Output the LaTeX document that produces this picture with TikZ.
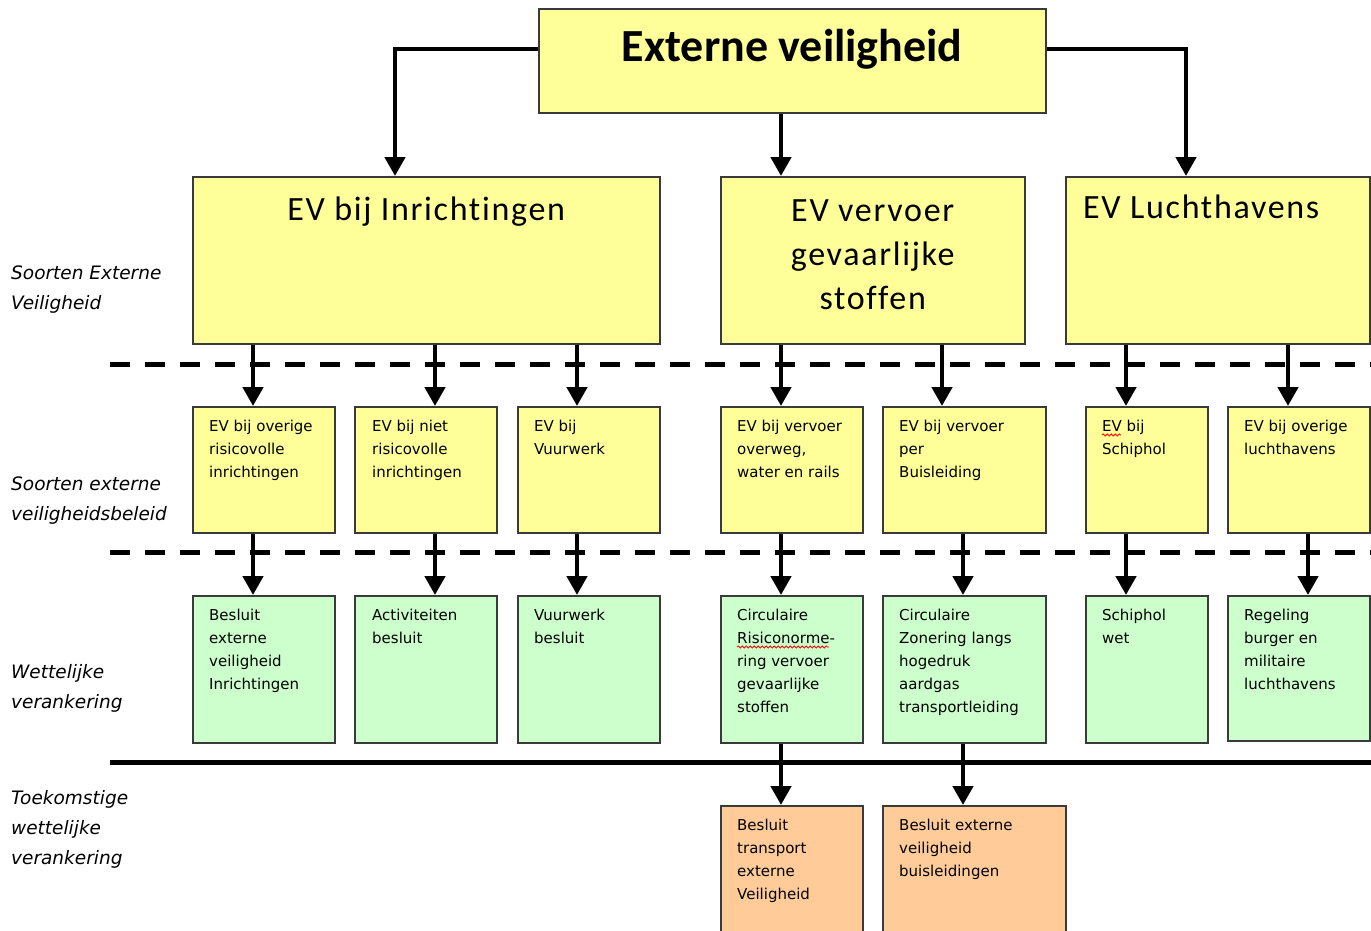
\documentclass[tikz,border=0pt]{standalone}
\usepackage{fontspec}
\usetikzlibrary{arrows.meta,decorations.pathmorphing}

\newfontfamily\headfont{Carlito}[LetterSpace=5,Ligatures={NoCommon}]
\newfontfamily\topfont{Carlito}
\newfontfamily\cellfont{DejaVu Sans}
\newfontfamily\sidefont{DejaVu Sans}

\definecolor{boxyellow}{HTML}{FFFF99}
\definecolor{boxgreen}{HTML}{CCFFCC}
\definecolor{boxorange}{HTML}{FFCC99}
\definecolor{boxline}{HTML}{3A3A3A}

% multi-line cell text, first baseline on the node's base anchor
\newcommand\celltext[2]{\parbox[t]{#1pt}{\raggedright #2}}

\tikzset{
  box/.style={draw=boxline, line width=1.5pt, inner sep=0pt, anchor=north west},
  ybox/.style={box, fill=boxyellow},
  gbox/.style={box, fill=boxgreen},
  obox/.style={box, fill=boxorange},
  small/.style={box, minimum width=142pt, minimum height=126pt},
  lawbox/.style={box, minimum width=142pt, minimum height=147pt},
  celltxt/.style={anchor=base west, inner sep=0pt, xshift=17pt, yshift=-25.5pt,
    font=\cellfont\fontsize{15}{23}\selectfont},
  sidetxt/.style={anchor=base west, inner sep=0pt,
    font=\sidefont\itshape\fontsize{18.5}{30}\selectfont},
  arr/.style={line width=4.5pt, draw=black, -{Triangle[width=20pt,length=19pt]}},
  sepdash/.style={line width=5pt, dash pattern=on 20pt off 15pt},
  sepsolid/.style={line width=5pt},
  spellmark/.style={draw=red, line width=0.8pt, decorate,
    decoration={snake, amplitude=1.1pt, segment length=4pt}},
}

\begin{document}
\begin{tikzpicture}[x=1pt,y=-1pt]
\useasboundingbox (0,0) rectangle (1371,930);
\clip (0,0) rectangle (1371,930);
\fill[white] (0,0) rectangle (1371,930);

% arrow columns
\coordinate (cL) at (395,0);
\coordinate (cM) at (781,0);
\coordinate (cR) at (1186,0);
\coordinate (c1) at (253,0);
\coordinate (c2) at (435,0);
\coordinate (c3) at (577,0);
\coordinate (c4) at (781,0);
\coordinate (c5a) at (942,0);
\coordinate (c5b) at (963,0);
\coordinate (c6) at (1126,0);
\coordinate (c7a) at (1288,0);
\coordinate (c7b) at (1308,0);

% level separators
\coordinate (s1a) at (110,364); \coordinate (s1b) at (1371,364);
\coordinate (s2a) at (110,552); \coordinate (s2b) at (1371,552);
\coordinate (s3a) at (110,762); \coordinate (s3b) at (1371,762);
\draw[sepdash] (s1a) -- (s1b);
\draw[sepdash] (s2a) -- (s2b);
\draw[sepsolid] (s3a) -- (s3b);

% top
\node[ybox, minimum width=507pt, minimum height=104pt] (title) at (538,8) {};
\node[anchor=base, inner sep=0pt, font=\topfont\bfseries\fontsize{46}{50}\selectfont]
  (title-t) at ([yshift=-53pt]title.north) {Externe veiligheid};

% kinds of external safety
\node[ybox, minimum width=467pt, minimum height=167pt] (inr) at (192,176) {};
\node[ybox, minimum width=304pt, minimum height=167pt] (ver) at (720,176) {};
\node[ybox, minimum width=304pt, minimum height=167pt] (luc) at (1065,176) {};
\node[anchor=base, inner sep=0pt, font=\headfont\fontsize{34}{44}\selectfont]
  (inr-t) at ([yshift=-44pt]inr.north) {EV bij Inrichtingen};
\node[anchor=base, inner sep=0pt, font=\headfont\fontsize{34}{44}\selectfont]
  (ver-t) at ([yshift=-45pt]ver.north) {\parbox[t]{300pt}{\centering EV vervoer\\gevaarlijke\\stoffen}};
\node[anchor=base west, inner sep=0pt, font=\headfont\fontsize{34}{44}\selectfont]
  (luc-t) at ([xshift=18pt,yshift=-42pt]luc.north west) {EV Luchthavens};

% policy kinds
\node[ybox, small] (iA) at (192,406) {};
\node[ybox, small] (iB) at (354,406) {};
\node[ybox, small] (iC) at (517,406) {};
\node[ybox, small] (vA) at (720,406) {};
\node[ybox, small, minimum width=163pt] (vB) at (882,406) {};
\node[ybox, small, minimum width=122pt] (lA) at (1085,406) {};
\node[ybox, small] (lB) at (1227,406) {};
\node[celltxt] (iA-t) at (iA.north west) {\celltext{125}{EV bij overige\\risicovolle\\inrichtingen}};
\node[celltxt, xshift=1pt] (iB-t) at (iB.north west) {\celltext{125}{EV bij niet\\risicovolle\\inrichtingen}};
\node[celltxt] (iC-t) at (iC.north west) {\celltext{125}{EV bij\\Vuurwerk}};
\node[celltxt] (vA-t) at (vA.north west) {\celltext{125}{EV bij vervoer\\overweg,\\water en rails}};
\node[celltxt] (vB-t) at (vB.north west) {\celltext{140}{EV bij vervoer\\per\\Buisleiding}};
\node[celltxt] (lA-t) at (lA.north west) {\celltext{105}{EV bij\\Schiphol}};
\node[celltxt] (lB-t) at (lB.north west) {\celltext{125}{EV bij overige\\luchthavens}};

% legal basis
\node[gbox, lawbox] (wA) at (192,595) {};
\node[gbox, lawbox] (wB) at (354,595) {};
\node[gbox, lawbox] (wC) at (517,595) {};
\node[gbox, lawbox] (wD) at (720,595) {};
\node[gbox, lawbox, minimum width=163pt] (wE) at (882,595) {};
\node[gbox, lawbox, minimum width=122pt] (wF) at (1085,595) {};
\node[gbox, lawbox, minimum height=145pt] (wG) at (1227,595) {};
\node[celltxt] (wA-t) at (wA.north west) {\celltext{125}{Besluit\\externe\\veiligheid\\Inrichtingen}};
\node[celltxt, xshift=1pt] (wB-t) at (wB.north west) {\celltext{125}{Activiteiten\\besluit}};
\node[celltxt] (wC-t) at (wC.north west) {\celltext{125}{Vuurwerk\\besluit}};
\node[celltxt] (wD-t) at (wD.north west) {\celltext{125}{Circulaire\\Risiconorme-\\ring vervoer\\gevaarlijke\\stoffen}};
\node[celltxt] (wE-t) at (wE.north west) {\celltext{145}{Circulaire\\Zonering langs\\hogedruk\\aardgas\\transportleiding}};
\node[celltxt] (wF-t) at (wF.north west) {\celltext{105}{Schiphol\\wet}};
\node[celltxt] (wG-t) at (wG.north west) {\celltext{125}{Regeling\\burger en\\militaire\\luchthavens}};

% spell-check marks
\draw[spellmark] ([yshift=-3.5pt]lA-t.base west) -- ++(19,0);
\draw[spellmark] ([yshift=-26.5pt]wD-t.base west) -- ++(92,0);

% future legal basis
\node[obox, minimum width=142pt, minimum height=140pt] (fA) at (720,805) {};
\node[obox, minimum width=183pt, minimum height=140pt] (fB) at (882,805) {};
\node[celltxt] (fA-t) at (fA.north west) {\celltext{125}{Besluit\\transport\\externe\\Veiligheid}};
\node[celltxt] (fB-t) at (fB.north west) {\celltext{165}{Besluit externe\\veiligheid\\buisleidingen}};

% level labels
\node[sidetxt] (lab1) at (11,279) {\celltext{170}{Soorten Externe\\Veiligheid}};
\node[sidetxt] (lab2) at (11,490) {\celltext{170}{Soorten externe\\veiligheidsbeleid}};
\node[sidetxt] (lab3) at (11,678) {\celltext{170}{Wettelijke\\verankering}};
\node[sidetxt] (lab4) at (11,804) {\celltext{170}{Toekomstige\\wettelijke\\verankering}};

% connectors
\draw[arr] ([yshift=-41pt]title.north west) -| (inr.north -| cL);
\draw[arr] ([yshift=-41pt]title.north east) -| (luc.north -| cR);
\draw[arr] (title.south -| cM) -- (ver.north -| cM);

\draw[arr] (inr.south -| c1) -- (iA.north -| c1);
\draw[arr] (inr.south -| c2) -- (iB.north -| c2);
\draw[arr] (inr.south -| c3) -- (iC.north -| c3);
\draw[arr] (ver.south -| c4) -- (vA.north -| c4);
\draw[arr] (ver.south -| c5a) -- (vB.north -| c5a);
\draw[arr] (luc.south -| c6) -- (lA.north -| c6);
\draw[arr] (luc.south -| c7a) -- (lB.north -| c7a);

\draw[arr] (iA.south -| c1) -- (wA.north -| c1);
\draw[arr] (iB.south -| c2) -- (wB.north -| c2);
\draw[arr] (iC.south -| c3) -- (wC.north -| c3);
\draw[arr] (vA.south -| c4) -- (wD.north -| c4);
\draw[arr] (vB.south -| c5b) -- (wE.north -| c5b);
\draw[arr] (lA.south -| c6) -- (wF.north -| c6);
\draw[arr] (lB.south -| c7b) -- (wG.north -| c7b);

\draw[arr] (wD.south -| c4) -- (fA.north -| c4);
\draw[arr] (wE.south -| c5b) -- (fB.north -| c5b);
\end{tikzpicture}
\end{document}
